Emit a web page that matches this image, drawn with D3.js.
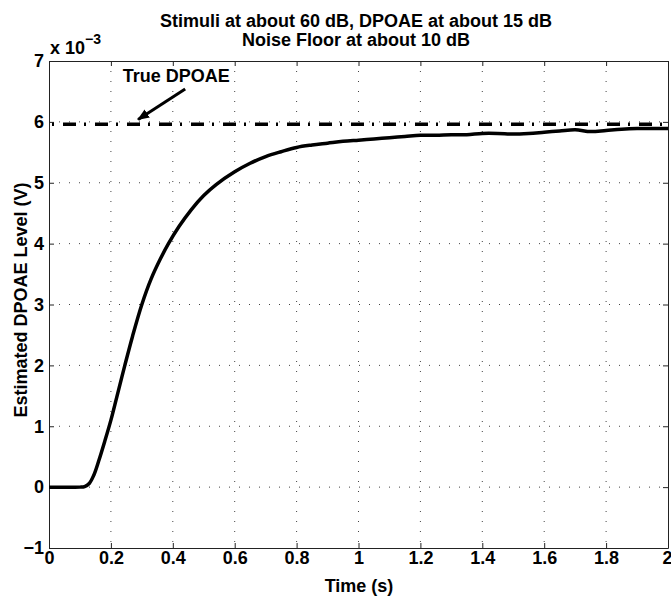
<!DOCTYPE html>
<html>
<head>
<meta charset="utf-8">
<script src="https://cdn.jsdelivr.net/npm/d3@7"></script>
<style>
  body { margin: 0; background: #fff; }
  text { font-family: "Liberation Sans", Arial, sans-serif; font-weight: bold; fill: #000; }
</style>
</head>
<body>
<svg id="chart"></svg>
<script>
// estimated DPOAE level, in units of 1e-3 V
const timeS = [0, 0.05, 0.10, 0.115, 0.13, 0.145, 0.16, 0.18, 0.20, 0.22, 0.245, 0.27, 0.30, 0.33, 0.36, 0.385,
  0.42, 0.46, 0.50, 0.54, 0.60, 0.65, 0.70, 0.75, 0.80, 0.85, 0.90, 0.95, 1.0, 1.05, 1.1, 1.15, 1.2,
  1.25, 1.3, 1.35, 1.4, 1.45, 1.5, 1.55, 1.6, 1.65, 1.7, 1.75, 1.8, 1.85, 1.9, 1.95, 2.0];
const levelE3 = [0, 0, 0, 0.01, 0.06, 0.2, 0.42, 0.75, 1.1, 1.5, 2.0, 2.48, 3.0, 3.42, 3.75, 3.99,
  4.28, 4.56, 4.79, 4.97, 5.18, 5.32, 5.43, 5.51, 5.58, 5.62, 5.65, 5.68, 5.70, 5.72, 5.74, 5.76, 5.78,
  5.78, 5.79, 5.79, 5.81, 5.81, 5.80, 5.81, 5.83, 5.85, 5.87, 5.84, 5.86, 5.88, 5.89, 5.89, 5.89];
const trueLevel = 5.96;
const xTicks = [0, 0.2, 0.4, 0.6, 0.8, 1, 1.2, 1.4, 1.6, 1.8, 2];
const yTicks = [-1, 0, 1, 2, 3, 4, 5, 6, 7];
const titleLines = ["Stimuli at about 60 dB, DPOAE at about 15 dB", "Noise Floor at about 10 dB"];
const annotation = {label: "True DPOAE", text: [0.238, 6.66], from: [0.44, 6.54], to: [0.288, 6.04]};

const width = 671, height = 597;
const margin = {top: 61, right: 3, bottom: 49, left: 49};
const w = width - margin.left - margin.right;
const h = height - margin.top - margin.bottom;
const fontSize = "18px";

const svg = d3.select("#chart").attr("width", width).attr("height", height);

svg.append("defs").append("marker")
  .attr("id", "arrow")
  .attr("viewBox", "0 0 10 10")
  .attr("refX", 9).attr("refY", 5)
  .attr("markerWidth", 4).attr("markerHeight", 4)
  .attr("markerUnits", "strokeWidth")
  .attr("orient", "auto")
  .append("path").attr("d", "M0,1 L10,5 L0,9 Z").attr("fill", "#000");

const g = svg.append("g").attr("transform", `translate(${margin.left},${margin.top})`);

const x = d3.scaleLinear().domain([0, 2]).range([0, w]);
const y = d3.scaleLinear().domain([-1, 7]).range([h, 0]);

// grid
g.append("g").selectAll("line").data(xTicks.slice(1, -1)).join("line")
  .attr("x1", d => x(d)).attr("x2", d => x(d)).attr("y1", 0).attr("y2", h)
  .attr("stroke", "#444").attr("stroke-width", 1).attr("stroke-dasharray", "1,9");
g.append("g").selectAll("line").data(yTicks.slice(1, -1)).join("line")
  .attr("y1", d => y(d)).attr("y2", d => y(d)).attr("x1", 0).attr("x2", w)
  .attr("stroke", "#444").attr("stroke-width", 1).attr("stroke-dasharray", "1,9");

// axes (MATLAB style, ticks inside, on all sides)
const axBottom = g.append("g").attr("transform", `translate(0,${h})`)
  .call(d3.axisBottom(x).tickValues(xTicks).tickSizeInner(-5).tickSizeOuter(0).tickPadding(3)
    .tickFormat(d3.format("")));
const axTop = g.append("g").call(d3.axisTop(x).tickValues(xTicks).tickSizeInner(-5).tickSizeOuter(0).tickFormat(""));
const axLeft = g.append("g")
  .call(d3.axisLeft(y).tickValues(yTicks).tickSizeInner(-5).tickSizeOuter(0).tickPadding(8)
    .tickFormat(d => d < 0 ? "\u2212" + Math.abs(d) : d));
const axRight = g.append("g").attr("transform", `translate(${w},0)`)
  .call(d3.axisRight(y).tickValues(yTicks).tickSizeInner(-5).tickSizeOuter(0).tickFormat(""));
[axBottom, axTop, axLeft, axRight].forEach(a => {
  a.select(".domain").attr("stroke", "#222");
  a.selectAll(".tick line").attr("stroke", "#222");
  a.selectAll("text").style("font-size", fontSize).style("font-weight", "bold")
    .style("font-family", "'Liberation Sans', Arial, sans-serif");
});
axBottom.selectAll("text").attr("dy", "0.71em");
// keep the last label inside the window
axBottom.selectAll(".tick").filter(d => d === 2).select("text")
  .attr("text-anchor", "end").attr("dx", "4px");
axLeft.selectAll("text").attr("dx", "3px");

// true DPOAE line
g.append("line")
  .attr("x1", x(0)).attr("x2", x(2)).attr("y1", y(trueLevel)).attr("y2", y(trueLevel))
  .attr("stroke", "#000").attr("stroke-width", 3.5)
  .attr("stroke-dasharray", "13,8,2,9").attr("stroke-dashoffset", 18);

// estimate curve
const line = d3.line().x((d, i) => x(timeS[i])).y(d => y(d)).curve(d3.curveCatmullRom.alpha(0.5));
g.append("path").datum(levelE3)
  .attr("d", line).attr("fill", "none").attr("stroke", "#000").attr("stroke-width", 3.5)
  .attr("stroke-linejoin", "round");

// annotation
g.append("text").attr("x", x(annotation.text[0])).attr("y", y(annotation.text[1]))
  .style("font-size", fontSize).text(annotation.label);
g.append("line")
  .attr("x1", x(annotation.from[0])).attr("y1", y(annotation.from[1]))
  .attr("x2", x(annotation.to[0])).attr("y2", y(annotation.to[1]))
  .attr("stroke", "#000").attr("stroke-width", 3).attr("marker-end", "url(#arrow)");

// exponent label
const expo = svg.append("text").attr("x", margin.left + 1).attr("y", 54).style("font-size", fontSize);
expo.append("tspan").text("x 10");
expo.append("tspan").attr("dy", -10).style("font-size", "14px").text("\u22123");

// titles
svg.append("g").selectAll("text").data(titleLines).join("text")
  .attr("x", 356).attr("y", (d, i) => 26.5 + i * 19.5)
  .attr("text-anchor", "middle").style("font-size", fontSize).text(d => d);

svg.append("text").attr("x", 359).attr("y", 592)
  .attr("text-anchor", "middle").style("font-size", fontSize).text("Time (s)");

svg.append("text").attr("transform", `translate(27,300) rotate(-90)`)
  .attr("text-anchor", "middle").style("font-size", fontSize).text("Estimated DPOAE Level (V)");
</script>
</body>
</html>
